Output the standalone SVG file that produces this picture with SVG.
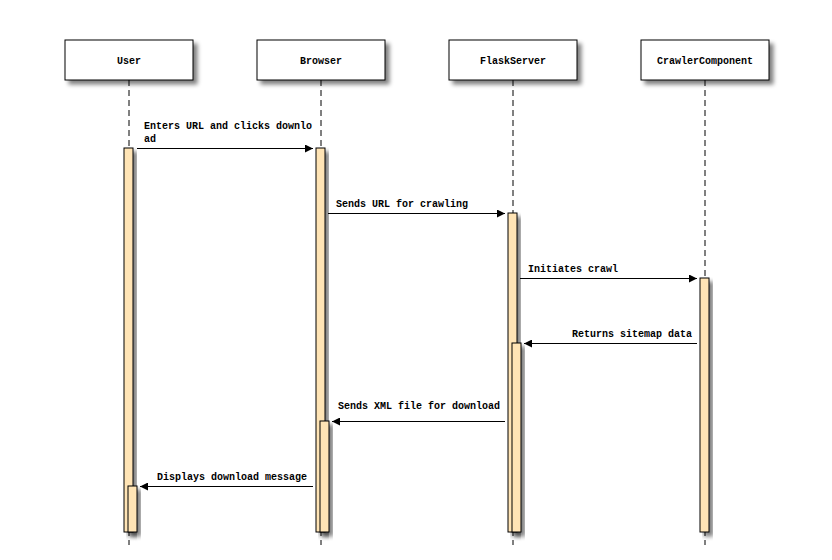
<svg xmlns="http://www.w3.org/2000/svg" width="832" height="560" viewBox="0 0 832 560">
<defs>
<filter id="sh" x="-20%" y="-20%" width="160%" height="160%">
<feGaussianBlur in="SourceAlpha" stdDeviation="2"/>
<feOffset dx="4" dy="4" result="b"/>
<feComponentTransfer><feFuncA type="linear" slope="0.5"/></feComponentTransfer>
<feMerge><feMergeNode/><feMergeNode in="SourceGraphic"/></feMerge>
</filter>
<marker id="ah" viewBox="0 0 10 10" refX="10" refY="5" markerWidth="9" markerHeight="8" markerUnits="userSpaceOnUse" orient="auto">
<path d="M0,0 L10,5 L0,10 z" fill="#000"/>
</marker>
<style>
.box{fill:#fff;stroke:#000;stroke-width:1}
.life{stroke:#000;stroke-width:1;stroke-dasharray:6,4;fill:none}
.act{fill:#FFE4B5;stroke:#000;stroke-width:1}
.msg{stroke:#000;stroke-width:1;fill:none;marker-end:url(#ah)}
text{font-family:"Liberation Mono","DejaVu Sans Mono",monospace;font-size:10px;font-weight:bold;fill:#000}
.c{text-anchor:middle}
.r{text-anchor:end}
</style>
</defs>
<rect width="832" height="560" fill="#fff"/>
<g id="lifelines">
<line class="life" x1="129" y1="80" x2="129" y2="545"/>
<line class="life" x1="321" y1="80" x2="321" y2="545"/>
<line class="life" x1="513" y1="80" x2="513" y2="545"/>
<line class="life" x1="705" y1="80" x2="705" y2="545"/>
</g>
<g id="User">
<rect class="box" x="65" y="40" width="128" height="40" filter="url(#sh)"/>
<text class="c" x="129" y="64">User</text>
<rect class="act" x="124" y="148" width="9" height="384" filter="url(#sh)"/>
<rect class="act" x="128" y="486" width="9" height="46" filter="url(#sh)"/>
</g>
<g id="Browser">
<rect class="box" x="257" y="40" width="128" height="40" filter="url(#sh)"/>
<text class="c" x="321" y="64">Browser</text>
<rect class="act" x="316" y="148" width="9" height="384" filter="url(#sh)"/>
<rect class="act" x="320" y="421" width="9" height="111" filter="url(#sh)"/>
</g>
<g id="FlaskServer">
<rect class="box" x="449" y="40" width="128" height="40" filter="url(#sh)"/>
<text class="c" x="513" y="64">FlaskServer</text>
<rect class="act" x="508" y="213" width="9" height="319" filter="url(#sh)"/>
<rect class="act" x="512" y="343" width="9" height="189" filter="url(#sh)"/>
</g>
<g id="CrawlerComponent">
<rect class="box" x="641" y="40" width="128" height="40" filter="url(#sh)"/>
<text class="c" x="705" y="64">CrawlerComponent</text>
<rect class="act" x="700" y="278" width="9" height="254" filter="url(#sh)"/>
</g>
<g id="connectors">
<line class="msg" x1="137" y1="148.5" x2="313" y2="148.5"/>
<text x="144" y="129">Enters URL and clicks downlo</text>
<text x="144" y="142">ad</text>
<line class="msg" x1="328" y1="213.5" x2="505" y2="213.5"/>
<text x="336" y="207">Sends URL for crawling</text>
<line class="msg" x1="520" y1="278.5" x2="697" y2="278.5"/>
<text x="528" y="272">Initiates crawl</text>
<line class="msg" x1="697" y1="343.5" x2="524" y2="343.5"/>
<text class="r" x="692" y="337">Returns sitemap data</text>
<line class="msg" x1="505" y1="421.5" x2="332" y2="421.5"/>
<text class="r" x="500" y="409">Sends XML file for download</text>
<line class="msg" x1="313" y1="486.5" x2="140" y2="486.5"/>
<text class="r" x="307" y="480">Displays download message</text>
</g>
</svg>
